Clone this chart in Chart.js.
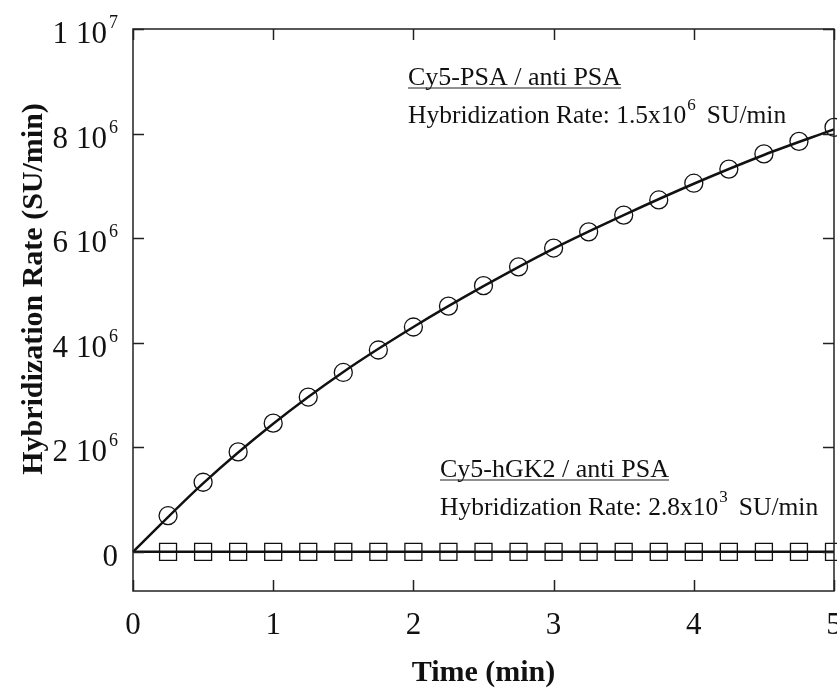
<!DOCTYPE html>
<html>
<head>
<meta charset="utf-8">
<script src="https://cdn.jsdelivr.net/npm/chart.js@4/dist/chart.umd.min.js"></script>
<style>
  html, body { margin: 0; padding: 0; background: #fff; }
</style>
</head>
<body>
<canvas id="chart" width="837" height="689"></canvas>
<script>
// Measured points (time in min, rate in SU/min)
const times = [0.25, 0.5, 0.75, 1, 1.25, 1.5, 1.75, 2, 2.25, 2.5, 2.75, 3, 3.25, 3.5, 3.75, 4, 4.25, 4.5, 4.75, 5];
const psaRate = [0.69e6, 1.33e6, 1.91e6, 2.46e6, 2.96e6, 3.43e6, 3.86e6, 4.30e6, 4.70e6, 5.09e6,
                 5.45e6, 5.81e6, 6.12e6, 6.44e6, 6.73e6, 7.05e6, 7.32e6, 7.61e6, 7.85e6, 8.12e6];
const hgk2Rate = [0, 0, 0, 0, 0, 0, 0, 0, 0, 0, 0, 0, 0, 0, 0, 0, 0, 0, 0, 0];

// Fitted curves
const fitTimes = [0, 0.5, 1, 1.5, 2, 2.5, 3, 3.5, 4, 4.5, 5];
const psaFit = [0, 1.31e6, 2.45e6, 3.44e6, 4.30e6, 5.08e6, 5.80e6, 6.44e6, 7.04e6, 7.59e6, 8.08e6];
const hgk2FitTimes = [0, 5];
const hgk2Fit = [0, 0];

// Axis ticks
const xTicks = [0, 1, 2, 3, 4, 5];
const yTicks = [0, 2e6, 4e6, 6e6, 8e6, 1e7];
const yMantissa = ['0', '2', '4', '6', '8', '1'];
const yExponent = ['', '6', '6', '6', '6', '7'];

// Annotation texts
const labels = [
  { title: 'Cy5-PSA / anti PSA', rate: '1.5x10', exp: '6', unit: 'SU/min', x: 408, y: 85 },
  { title: 'Cy5-hGK2 / anti PSA', rate: '2.8x10', exp: '3', unit: 'SU/min', x: 440, y: 477 }
];

const toPoints = (xs, ys) => xs.map((x, i) => ({ x, y: ys[i] }));

const SERIF = '"Liberation Serif", "Times New Roman", serif';

// Draw frame, inward ticks, tick labels, axis titles and annotations
const decorPlugin = {
  id: 'decor',
  afterDraw(chart) {
    const ctx = chart.ctx;
    const { left, right, top, bottom } = chart.chartArea;
    const xs = chart.scales.x, ys = chart.scales.y;
    const tickLen = 11;

    ctx.save();
    ctx.strokeStyle = '#222';
    ctx.lineWidth = 1.5;
    ctx.strokeRect(left, top, right - left, bottom - top);

    ctx.beginPath();
    xTicks.forEach(v => {
      const px = Math.round(xs.getPixelForValue(v)) + 0.5;
      ctx.moveTo(px, bottom); ctx.lineTo(px, bottom - tickLen);
      ctx.moveTo(px, top); ctx.lineTo(px, top + tickLen);
    });
    yTicks.forEach(v => {
      const py = Math.round(ys.getPixelForValue(v)) + 0.5;
      ctx.moveTo(left, py); ctx.lineTo(left + tickLen, py);
      ctx.moveTo(right, py); ctx.lineTo(right - tickLen, py);
    });
    ctx.stroke();

    // x tick labels
    ctx.fillStyle = '#111';
    ctx.font = '31px ' + SERIF;
    ctx.textAlign = 'center';
    ctx.textBaseline = 'alphabetic';
    xTicks.forEach(v => {
      ctx.fillText(String(v), xs.getPixelForValue(v), 634);
    });

    // y tick labels with power-of-ten superscript
    yTicks.forEach((v, i) => {
      const py = ys.getPixelForValue(v);
      ctx.font = '31px ' + SERIF;
      if (!yExponent[i]) {
        ctx.textAlign = 'right';
        ctx.fillText(yMantissa[i], 118, py + 14);
        return;
      }
      ctx.textAlign = 'right';
      ctx.fillText(yMantissa[i], 68, py + 14);
      ctx.fillText('10', 107, py + 14);
      ctx.font = '18px ' + SERIF;
      ctx.textAlign = 'left';
      ctx.fillText(yExponent[i], 109, py - 1);
    });

    // axis titles
    ctx.font = 'bold 30px ' + SERIF;
    ctx.textAlign = 'center';
    ctx.fillText('Time (min)', (left + right) / 2, 681);
    ctx.save();
    ctx.translate(42, 289);
    ctx.rotate(-Math.PI / 2);
    ctx.fillText('Hybridization Rate (SU/min)', 0, 0);
    ctx.restore();

    // annotations
    ctx.textAlign = 'left';
    labels.forEach(l => {
      ctx.font = '26px ' + SERIF;
      ctx.fillText(l.title, l.x, l.y);
      const w = ctx.measureText(l.title).width;
      ctx.lineWidth = 1.2;
      ctx.beginPath();
      ctx.moveTo(l.x, l.y + 3); ctx.lineTo(l.x + w, l.y + 3);
      ctx.stroke();

      const line2 = 'Hybridization Rate: ' + l.rate;
      const y2 = l.y + 38;
      ctx.font = '25.5px ' + SERIF;
      ctx.fillText(line2, l.x, y2);
      let x = l.x + ctx.measureText(line2).width + 1;
      ctx.font = '17px ' + SERIF;
      ctx.fillText(l.exp, x, y2 - 13);
      x += ctx.measureText(l.exp).width + 11;
      ctx.font = '25.5px ' + SERIF;
      ctx.fillText(l.unit, x, y2);
    });
    ctx.restore();
  }
};

new Chart(document.getElementById('chart'), {
  type: 'scatter',
  data: {
    datasets: [
      {
        label: 'Cy5-PSA fit',
        data: toPoints(fitTimes, psaFit),
        showLine: true,
        borderColor: '#111',
        borderWidth: 2.5,
        pointRadius: 0,
        cubicInterpolationMode: 'monotone',
        clip: false
      },
      {
        label: 'Cy5-hGK2 fit',
        data: toPoints(hgk2FitTimes, hgk2Fit),
        showLine: true,
        borderColor: '#111',
        borderWidth: 2.5,
        pointRadius: 0,
        clip: false
      },
      {
        label: 'Cy5-PSA / anti PSA',
        data: toPoints(times, psaRate),
        pointStyle: 'circle',
        pointRadius: 9,
        pointBorderWidth: 1.3,
        pointBorderColor: '#111',
        pointBackgroundColor: 'rgba(0,0,0,0)',
        clip: false
      },
      {
        label: 'Cy5-hGK2 / anti PSA',
        data: toPoints(times, hgk2Rate),
        pointStyle: 'rect',
        pointRadius: 12,
        pointBorderWidth: 1.3,
        pointBorderColor: '#111',
        pointBackgroundColor: 'rgba(0,0,0,0)',
        clip: false
      }
    ]
  },
  options: {
    responsive: false,
    animation: false,
    devicePixelRatio: 1,
    layout: { autoPadding: false, padding: { left: 133, top: 29, right: 3, bottom: 98 } },
    plugins: { legend: { display: false }, tooltip: { enabled: false } },
    scales: {
      x: { type: 'linear', min: 0, max: 5, display: false },
      y: { type: 'linear', min: -0.75e6, max: 1e7, display: false }
    }
  },
  plugins: [decorPlugin]
});
</script>
</body>
</html>
